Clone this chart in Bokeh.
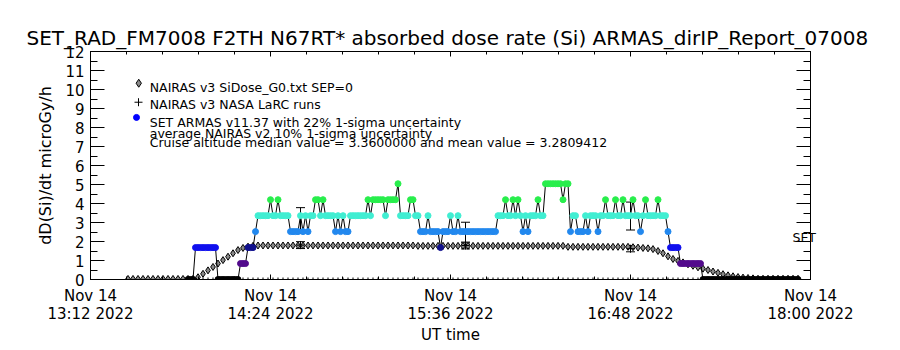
import math
from bokeh.plotting import figure
from bokeh.models import (Range1d, LinearAxis, FixedTicker, ColumnDataSource,
                          Whisker, TeeHead, Title)
from bokeh.embed import file_html
from bokeh.resources import INLINE
from bokeh.core.properties import value

FONT = "DejaVu Sans"

# ---------------- data ----------------
T0 = "13:12"                       # left edge of the time axis (UT, Nov 14 2022)
T1 = "18:00"                       # right edge
x_tick_times = ["13:12", "14:24", "15:36", "16:48", "18:00"]
x_tick_day = ["Nov 14", "Nov 14", "Nov 14", "Nov 14", "Nov 14"]
x_tick_year = ["2022", "2022", "2022", "2022", "2022"]
x_minor_step_min = 14.4
y_ticks = [0, 1, 2, 3, 4, 5, 6, 7, 8, 9, 10, 11, 12]

# SET ARMAS dose rate, 1-min samples given as runs (start time, value)
armas_run_start = [
    "13:51", "13:54", "14:03", "14:12", "14:15", "14:18", "14:19", "14:24", "14:25", "14:27",
    "14:28", "14:32", "14:36", "14:37", "14:38", "14:39", "14:40", "14:42", "14:44", "14:45",
    "14:46", "14:50", "14:51", "14:52", "14:53", "14:54", "14:56", "15:03", "15:04", "15:05",
    "15:10", "15:11", "15:15", "15:16", "15:20", "15:22", "15:24", "15:27", "15:28", "15:32",
    "15:33", "15:36", "15:37", "15:39", "15:40", "15:55", "15:58", "15:59", "16:01", "16:02",
    "16:03", "16:04", "16:05", "16:06", "16:07", "16:08", "16:11", "16:12", "16:14", "16:21",
    "16:22", "16:24", "16:25", "16:27", "16:30", "16:31", "16:32", "16:35", "16:36", "16:38",
    "16:39", "16:42", "16:43", "16:45", "16:46", "16:49", "16:50", "16:52", "16:53", "16:54",
    "16:55", "16:59", "17:00", "17:03", "17:04", "17:08", "17:17",
]
armas_run_value = [
    0.00, 1.68, 0.00, 0.84, 1.68, 2.52, 3.36, 4.20, 3.36, 4.20,
    3.36, 2.52, 3.36, 2.52, 3.36, 2.52, 3.36, 4.20, 3.36, 4.20,
    3.36, 2.52, 3.36, 2.52, 3.36, 2.52, 3.36, 4.20, 3.36, 4.20,
    3.36, 4.20, 5.04, 3.36, 4.20, 3.36, 2.52, 3.36, 2.52, 1.68,
    2.52, 3.36, 2.52, 3.36, 2.52, 3.36, 4.20, 3.36, 4.20, 3.36,
    4.20, 3.36, 2.52, 3.36, 2.52, 3.36, 4.20, 3.36, 5.04, 4.20,
    5.04, 2.52, 3.36, 2.52, 3.36, 2.52, 3.36, 2.52, 3.36, 4.20,
    3.36, 4.20, 3.36, 4.20, 3.36, 4.20, 3.36, 2.52, 3.36, 4.20,
    3.36, 4.20, 3.36, 2.52, 1.68, 0.84, 0.00,
]
armas_last_time = "17:55"
armas_dark_runs = ["14:15", "15:32"]      # runs drawn in the darker blue

# NAIRAS v3 SiDose_G0 model, 2-min samples from 13:27
nairas_start = "13:27"
nairas_step_min = 2
nairas_value = [
    0.03, 0.03, 0.03, 0.03, 0.03, 0.03, 0.03, 0.03, 0.03, 0.03, 0.03, 0.03, 0.03, 0.03,
    0.12, 0.30, 0.48, 0.66, 0.84, 1.02, 1.20, 1.38, 1.55, 1.66, 1.73, 1.77,
    1.79, 1.79, 1.79, 1.79, 1.79, 1.79, 1.79, 1.79,
    1.79, 1.79, 1.79, 1.79, 1.79, 1.79, 1.79, 1.79,
    1.79, 1.79, 1.79, 1.79, 1.79, 1.79, 1.79, 1.79,
    1.79, 1.79, 1.79, 1.79, 1.79, 1.79, 1.79, 1.79,
    1.77, 1.77, 1.77, 1.77, 1.77, 1.77, 1.77, 1.77, 1.77, 1.77,
    1.77, 1.77, 1.77, 1.77, 1.77, 1.77, 1.77, 1.77, 1.77, 1.77,
    1.77, 1.77, 1.77, 1.77, 1.77, 1.77, 1.77, 1.77, 1.77, 1.77,
    1.72, 1.72, 1.72, 1.72, 1.72, 1.72, 1.72, 1.72, 1.72, 1.72, 1.72, 1.72, 1.72,
    1.70, 1.68, 1.66, 1.64, 1.60, 1.50, 1.38, 1.22, 1.08, 0.98, 0.90, 0.80, 0.72,
    0.64, 0.57, 0.50, 0.42, 0.35, 0.28, 0.22, 0.17, 0.13, 0.10, 0.08, 0.06,
    0.04, 0.04, 0.04, 0.04, 0.04, 0.04, 0.04, 0.04, 0.04,
]

# NAIRAS v3 NASA LaRC runs (10 % 1-sigma)
larc_time = ["14:36", "15:42", "16:48"]
larc_value = [1.81, 1.79, 1.62]
larc_sigma = 0.10

# SET ARMAS 22 % 1-sigma uncertainty bars
armas_err_time = ["14:36", "15:42", "16:48"]
armas_err_value = [3.10, 2.47, 3.34]
armas_sigma = 0.22

title_text = "SET_RAD_FM7008  F2TH N67RT* absorbed dose rate (Si) ARMAS_dirIP_Report_07008"
legend_lines = [
    "NAIRAS v3 SiDose_G0.txt SEP=0",
    "NAIRAS v3 NASA LaRC runs",
    "SET ARMAS v11.37 with 22% 1-sigma uncertainty",
    "average NAIRAS v2 10% 1-sigma uncertainty",
    "Cruise altitude median value = 3.3600000 and mean value = 3.2809412",
]
set_label = "SET"
set_label_y = 2.2

# ---------------- helpers ----------------
def tmin(s):
    h, m = s.split(":")
    return int(h) * 60 + int(m) - (int(T0[:2]) * 60 + int(T0[3:]))

COLORS = {0.00: "#000000", 0.84: "#520a8c", 1.68: "#1010ee", 2.52: "#2288ee",
          3.36: "#40eed2", 4.20: "#28ee4c", 5.04: "#28ee4c"}
DARK_BLUE = "#10108e"

arm_t, arm_v, arm_c = [], [], []
starts = [tmin(s) for s in armas_run_start]
ends = starts[1:] + [tmin(armas_last_time) + 1]
for s, e, v, lab in zip(starts, ends, armas_run_value, armas_run_start):
    for t in range(s, e):
        arm_t.append(t)
        arm_v.append(v)
        arm_c.append(DARK_BLUE if lab in armas_dark_runs else COLORS[v])

n0 = tmin(nairas_start)
nai_t = [n0 + i * nairas_step_min for i in range(len(nairas_value))]

xmax = tmin(T1)
x_ticks = [tmin(s) for s in x_tick_times]
x_minor = [i * x_minor_step_min for i in range(int(round(xmax / x_minor_step_min)) + 1)]
y_minor = [i * 0.5 for i in range(25)]

# ---------------- figure ----------------
p = figure(width=900, height=350, x_range=Range1d(0, xmax), y_range=Range1d(0, 12),
           output_backend="svg", toolbar_location=None,
           x_axis_type=None, y_axis_type=None,
           min_border_left=90, min_border_right=90, min_border_top=51, min_border_bottom=71)
p.outline_line_color = "black"
p.outline_line_width = 1
p.background_fill_color = "white"
p.border_fill_color = "white"

p.title = Title(text=title_text, align="center", text_font=FONT, text_font_size="20px",
                text_font_style="normal", text_color="black", standoff=3)

xt = FixedTicker(ticks=x_ticks, minor_ticks=x_minor)
yt = FixedTicker(ticks=y_ticks, minor_ticks=y_minor)

xb = LinearAxis(ticker=xt, axis_label="UT time")
xb.major_label_overrides = {t: f"{d}\n{s} {y}" for t, d, s, y in
                            zip(x_ticks, x_tick_day, x_tick_times, x_tick_year)}
yl = LinearAxis(ticker=yt, axis_label="dD(Si)/dt microGy/h")
xa = LinearAxis(ticker=xt)
yr = LinearAxis(ticker=yt)
ys = LinearAxis(ticker=FixedTicker(ticks=[set_label_y], minor_ticks=[]))
ys.major_label_overrides = {set_label_y: set_label}

for ax in (xb, yl, xa, yr, ys):
    ax.axis_line_color = "black"
    ax.major_tick_line_color = "black"
    ax.minor_tick_line_color = "black"
    ax.major_tick_out = 0
    ax.minor_tick_out = 0
    ax.major_label_text_font = FONT
    ax.axis_label_text_font = FONT
    ax.axis_label_text_font_style = "normal"
    ax.major_label_text_color = "black"
    ax.axis_label_text_color = "black"

for ax in (xb, xa):
    ax.major_tick_in = 5
    ax.minor_tick_in = 3
for ax in (yl, yr):
    ax.major_tick_in = 14
    ax.minor_tick_in = 7

xb.major_label_text_font_size = "15px"
xb.major_label_text_line_height = 1.0
xb.major_label_standoff = 7
xb.axis_label_text_font_size = "15px"
xb.axis_label_standoff = 0

yl.major_label_text_font_size = "15px"
yl.major_label_standoff = 6
yl.axis_label_text_font_size = "16px"
yl.axis_label_standoff = 7

for ax in (xa, yr):
    ax.major_label_text_font_size = "0px"
    ax.major_label_text_alpha = 0
    ax.major_label_standoff = 0

ys.axis_line_color = None
ys.major_tick_line_color = None
ys.major_tick_in = 0
ys.major_label_text_font_size = "12.5px"
ys.major_label_standoff = -18

p.add_layout(xb, "below")
p.add_layout(yl, "left")
p.add_layout(xa, "above")
p.add_layout(yr, "right")
p.add_layout(ys, "right")

# sample rug along the bottom
p.scatter(nai_t, [0] * len(nai_t), marker="dash", angle=math.pi / 2, size=4,
          line_color="black", line_width=1)

# NAIRAS model curve
p.scatter(nai_t, nairas_value, marker="diamond", size=7, fill_color="#8a8a8a",
          line_color="black", line_width=1)

# ARMAS: connecting line and coloured samples
p.line(arm_t, arm_v, line_color="black", line_width=1)
p.scatter(arm_t, arm_v, marker="circle", size=6, fill_color=arm_c, line_color=arm_c)

# uncertainty bars
et = [tmin(s) for s in armas_err_time]
esrc = ColumnDataSource(dict(x=et,
                             lo=[v * (1 - armas_sigma) for v in armas_err_value],
                             hi=[v * (1 + armas_sigma) for v in armas_err_value]))
p.add_layout(Whisker(source=esrc, base="x", lower="lo", upper="hi", dimension="height",
                     line_color="black", line_width=1,
                     upper_head=TeeHead(size=9, line_color="black"),
                     lower_head=TeeHead(size=9, line_color="black")))
lt = [tmin(s) for s in larc_time]
lsrc = ColumnDataSource(dict(x=lt,
                             lo=[v * (1 - larc_sigma) for v in larc_value],
                             hi=[v * (1 + larc_sigma) for v in larc_value]))
p.add_layout(Whisker(source=lsrc, base="x", lower="lo", upper="hi", dimension="height",
                     line_color="black", line_width=1,
                     upper_head=TeeHead(size=9, line_color="black"),
                     lower_head=TeeHead(size=9, line_color="black")))
p.scatter(lt, larc_value, marker="cross", size=8, line_color="black", line_width=1)

# legend (drawn inside the frame like the original)
sym_x = [19.3, 19.2, 18.4]
sym_y = [10.33, 9.33, 8.53]
p.scatter([sym_x[0]], [sym_y[0]], marker="diamond", size=8, fill_color="#8a8a8a",
          line_color="black", line_width=1)
p.scatter([sym_x[1]], [sym_y[1]], marker="cross", size=8, line_color="black", line_width=1)
p.scatter([sym_x[2]], [sym_y[2]], marker="circle", size=6, fill_color="#0000ff",
          line_color="#0000ff")
p.text(x=[23.7] * 5, y=[10.12, 9.19, 8.28, 7.66, 7.22], text=legend_lines,
       text_font=value(FONT), text_font_size="12.5px", text_color="black",
       text_baseline="alphabetic", text_align="left")

open("out.html", "w").write(file_html(p, INLINE))
